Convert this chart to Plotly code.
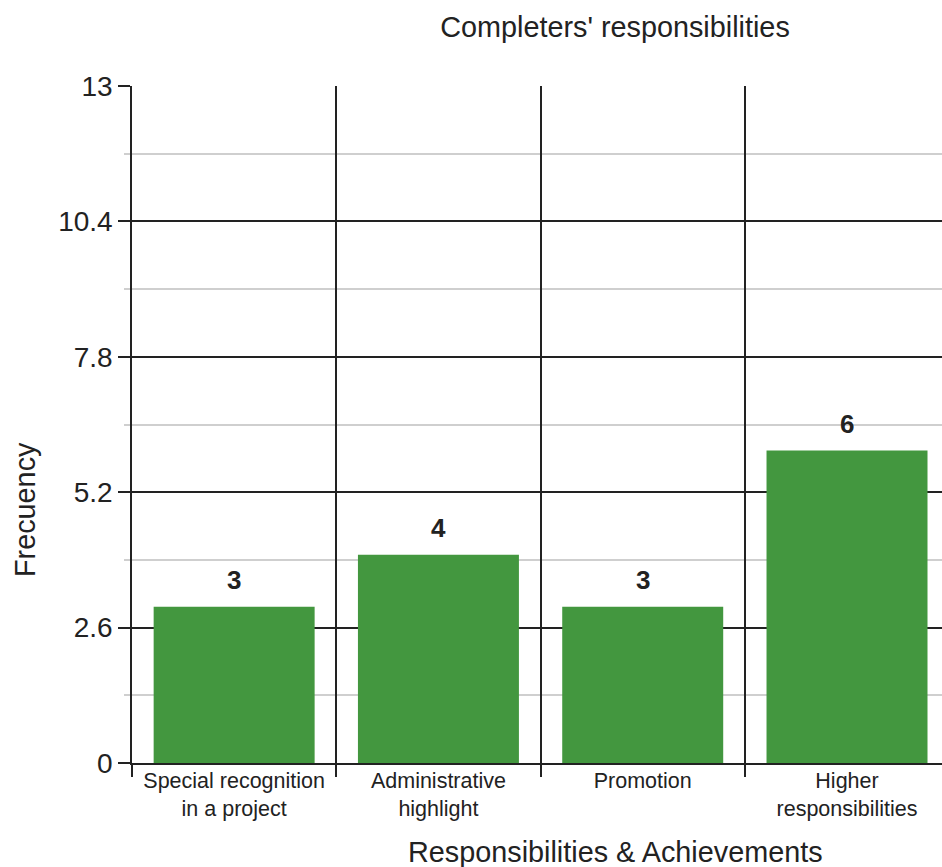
import plotly.graph_objects as go

# Categories and counts
categories = [
    "Special recognition<br>in a project",
    "Administrative<br>highlight",
    "Promotion",
    "Higher<br>responsibilities",
]
frequency = [3, 4, 3, 6]

y_tick_values = [0, 2.6, 5.2, 7.8, 10.4, 13]
y_tick_labels = ["0", "2.6", "5.2", "7.8", "10.4", "13"]

FONT = "Arial, Liberation Sans, sans-serif"
INK = "#222222"
BAR_GREEN = "#43973F"

W, H = 942, 867
M_L, M_R, M_T, M_B = 132, 0, 86, 104

fig = go.Figure(
    go.Bar(
        x=categories,
        y=frequency,
        marker=dict(color=BAR_GREEN, line=dict(width=0)),
        hoverinfo="x+y",
    )
)

# Value labels above each bar
for cat, val in zip(categories, frequency):
    fig.add_annotation(
        x=cat, y=val, text=f"<b>{val}</b>", showarrow=False,
        yshift=27, font=dict(family=FONT, size=26, color=INK),
    )

# X-axis title
fig.add_annotation(
    text="Responsibilities & Achievements", xref="paper", yref="paper",
    x=(615 - M_L) / (W - M_L - M_R), y=-(852 - (H - M_B)) / (H - M_T - M_B),
    xanchor="center", yanchor="middle", showarrow=False,
    font=dict(family=FONT, size=28.8, color=INK),
)

# Y-axis title
fig.add_annotation(
    text="Frecuency", xref="paper", yref="paper", textangle=-90,
    x=-(M_L - 25) / (W - M_L - M_R), y=((H - M_B) - 510) / (H - M_T - M_B),
    xanchor="center", yanchor="middle", showarrow=False,
    font=dict(family=FONT, size=28.8, color=INK),
)

fig.update_layout(
    width=W, height=H,
    margin=dict(l=M_L, r=M_R, t=M_T, b=M_B),
    paper_bgcolor="white", plot_bgcolor="white",
    showlegend=False,
    bargap=0.212,
    title=dict(
        text="Completers' responsibilities", xref="paper",
        x=(615 - M_L) / (W - M_L - M_R), xanchor="center",
        yref="container", y=1 - 27 / H, yanchor="middle",
        font=dict(family=FONT, size=28.8, color=INK),
    ),
    xaxis=dict(
        type="category",
        range=[-0.5, 3.465],
        tickson="boundaries",
        showgrid=True, gridcolor=INK, gridwidth=1.5,
        ticks="outside", ticklen=12, tickcolor=INK, tickwidth=1.5,
        showline=True, linecolor=INK, linewidth=1.5,
        tickfont=dict(family=FONT, size=21.5, color=INK),
        ticklabelstandoff=-3,
        zeroline=False,
    ),
    yaxis=dict(
        range=[0, 13],
        tickvals=y_tick_values, ticktext=y_tick_labels,
        showgrid=True, gridcolor=INK, gridwidth=1.5,
        ticks="outside", ticklen=12, tickcolor=INK, tickwidth=1.5,
        showline=True, linecolor=INK, linewidth=1.5,
        zeroline=False,
        tickfont=dict(family=FONT, size=28, color=INK),
        minor=dict(dtick=1.3, showgrid=True, gridcolor="#cfcfcf", gridwidth=1.5,
                   ticks="outside", ticklen=6, tickcolor="#cfcfcf"),
    ),
)

fig.write_html("out.html")
